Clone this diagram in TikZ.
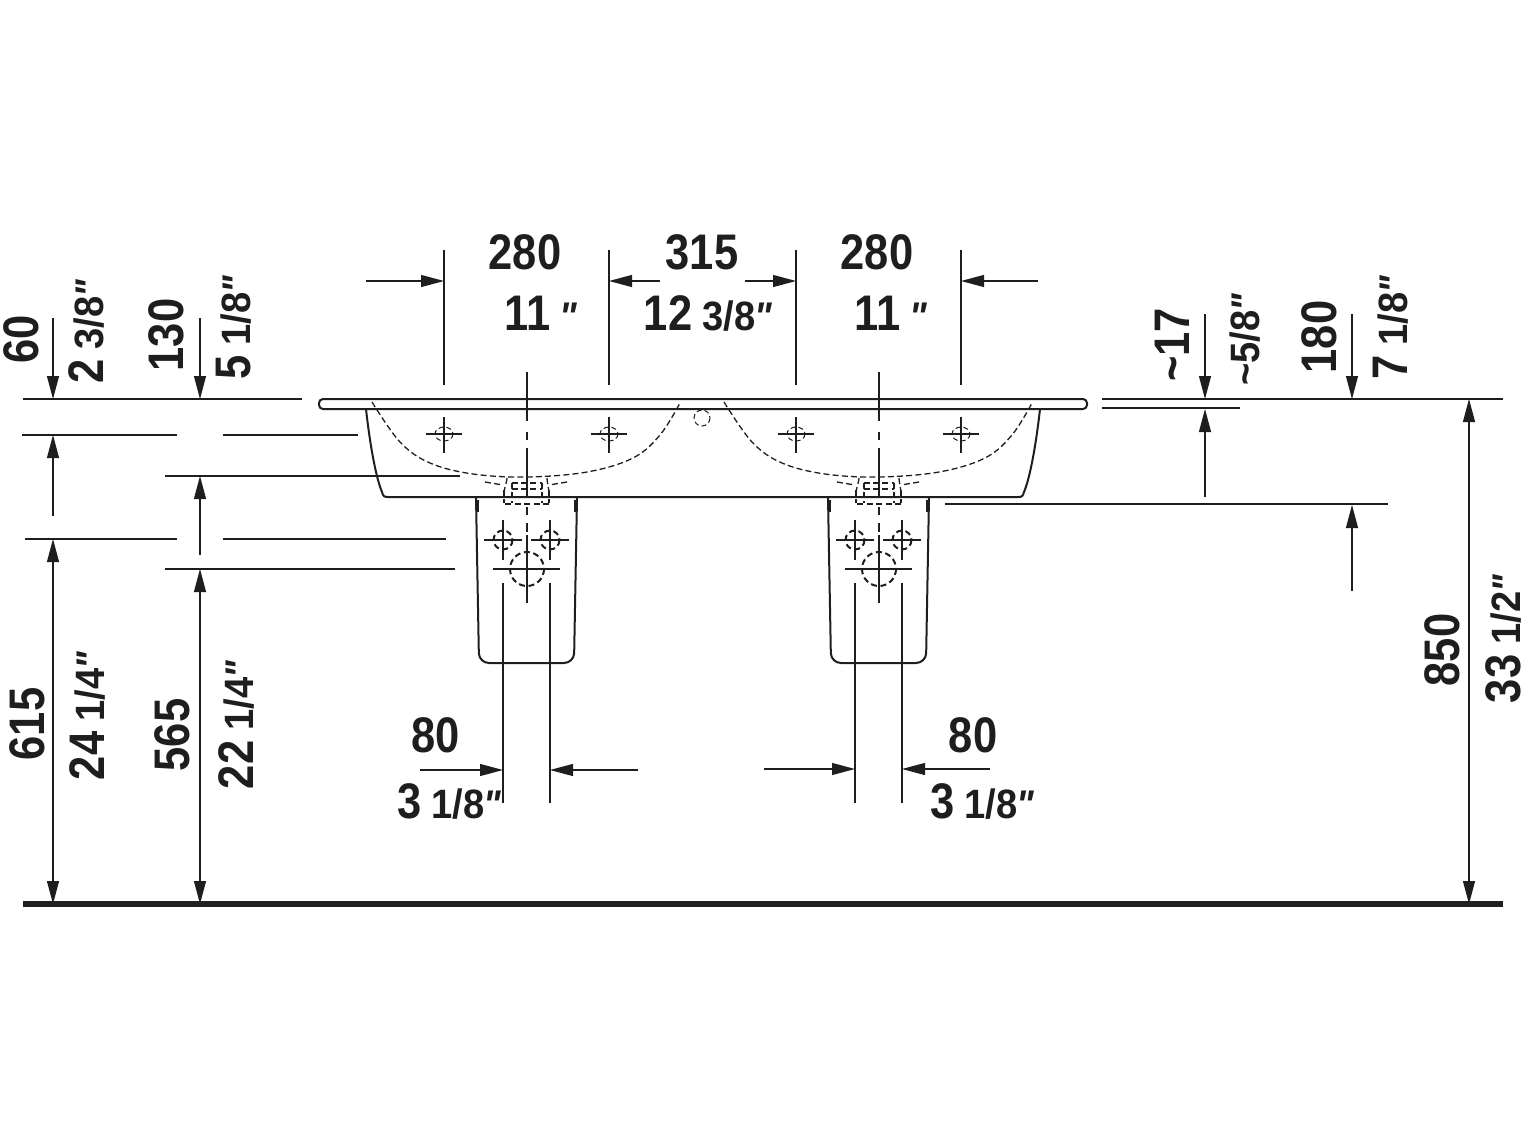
\documentclass[tikz,border=0pt]{standalone}
\usepackage{fontspec}
\usetikzlibrary{arrows.meta}
\newfontfamily\dimfont[FakeStretch=0.87]{Liberation Sans}
\newfontfamily\fracfont[FakeStretch=0.93]{Liberation Sans}
\definecolor{inkdark}{RGB}{30,30,30}
\newcommand{\qt}{{\fontsize{20}{20}\selectfont\fracfont\bfseries\itshape\hspace{-0.5pt}\char"0022}}
\newcommand{\fr}[1]{\hspace{-1pt}{\fracfont\bfseries\fontsize{20.5}{20.5}\selectfont #1}}

\begin{document}
\begin{tikzpicture}[
    x=0.5pt, y=-0.5pt,
    dimtext/.style={font=\dimfont\bfseries\fontsize{25}{25}\selectfont, text=inkdark, inner sep=0pt, text height=18pt, text depth=0pt},
    dimup/.style={dimtext, rotate=90},
    extline/.style={draw=inkdark, line width=0.55pt},
    centreline/.style={draw=inkdark, line width=0.7pt},
    arrowline/.style={draw=inkdark, line width=0.55pt, -{Stealth[length=11.5pt,width=6pt,inset=0pt]}},
    bothline/.style={draw=inkdark, line width=0.55pt, {Stealth[length=11.5pt,width=6pt,inset=0pt]}-{Stealth[length=11.5pt,width=6pt,inset=0pt]}},
    outline/.style={draw=inkdark, line width=1pt},
    hidden/.style={draw=inkdark, line width=0.65pt, dash pattern=on 3pt off 1.6pt},
    hiddenbold/.style={draw=inkdark, line width=1pt, dash pattern=on 3pt off 1.8pt}
]
\useasboundingbox (0,0) rectangle (1522,1142);

% Floor and level lines
\draw[inkdark, line width=3pt] (23,904) -- (1503,904);
\draw[extline] (23,399) -- (302,399);
\draw[extline] (1102,399) -- (1503,399);
\draw[extline] (1102,408) -- (1240,408);
\draw[extline] (22,435) -- (177,435);
\draw[extline] (223,435) -- (358,435);
\draw[extline] (25,539) -- (177,539);
\draw[extline] (223,539) -- (446,539);
\draw[extline] (165,476) -- (460,476);
\draw[extline] (165,569) -- (455,569);
\draw[extline] (945,504) -- (1388,504);

% Counter top and bowl body
\draw[outline, rounded corners=2pt] (319,399) rectangle (1087,409);
\draw[outline] (366,409) .. controls (370,445) and (376,478) .. (382,492) .. controls (383,496) and (384,497) .. (388,497)
    -- (1018,497) .. controls (1022,497) and (1023,496) .. (1024,492) .. controls (1030,478) and (1036,445) .. (1040,409);
\draw[hidden, dash pattern=on 2.5pt off 1.5pt, line width=0.5pt] (702,418) circle [radius=8];

% One basin with its pedestal, twice
\foreach \cx in {527,879} {
    \begin{scope}[shift={(\cx,0)}]
    % bowl hidden line
    \draw[hidden] plot[smooth, tension=0.6] coordinates {(-155,402) (-127,442) (-97,463) (-54,474) (0,477) (60,472) (106,458) (133,435) (153,403)};
    % tap and overflow holes
    \foreach \hx in {-83,82} {
        \draw[extline] (\hx-18,434) -- (\hx+18,434);
        \draw[extline] (\hx,417) -- (\hx,453);
        \draw[hidden, line width=0.5pt, dash pattern=on 2.5pt off 1.5pt] (\hx,434) ellipse [x radius=9, y radius=7];
    }
    % pedestal
    \draw[outline, rounded corners=5pt] (-51,497) -- (-48,663) -- (47,663) -- (50,497);
    \draw[line width=1pt, inkdark] (-49,500) -- (-49,512);
    \draw[line width=1pt, inkdark] (48,500) -- (48,512);
    % centre line
    \draw[centreline] (0,372) -- (0,421);
    \draw[centreline] (0,432) -- (0,440);
    \draw[centreline] (0,448) -- (0,497);
    \draw[centreline] (0,507) -- (0,515);
    \draw[centreline] (0,523) -- (0,532);
    \draw[centreline] (0,535) -- (0,603);
    % waste fitting
    \draw[hidden] (-42,482) -- (-24,485);
    \draw[hidden] (40,482) -- (22,485);
    \draw[hidden] (-20,478) .. controls (-20,483) and (-23,486) .. (-23,497);
    \draw[hidden] (20,478) .. controls (20,483) and (22,486) .. (22,497);
    \draw[hidden] (-23,490) -- (-23,503);
    \draw[hidden] (22,490) -- (22,503);
    \draw[hidden] (-15,483) -- (-15,503);
    \draw[hidden] (15,483) -- (15,503);
    \draw[hidden] (-15,483) -- (15,483);
    \draw[hidden] (-15,489) -- (15,489);
    \draw[hiddenbold] (-22,504) -- (22,504);
    % fixing and drain holes
    \foreach \hx in {-24,23} {
        \draw[extline] (\hx-19,540) -- (\hx+19,540);
        \draw[extline] (\hx,520) -- (\hx,560);
        \draw[hiddenbold] (\hx,540) circle [radius=9.5];
        \draw[extline] (\hx,583) -- (\hx,803);
    }
    \draw[centreline] (-34,569) -- (33,569);
    \draw[hiddenbold] (0,569) circle [radius=17];
    \end{scope}
}

% Width dimensions on top
\foreach \lx in {444,609,796,961} {
    \draw[extline] (\lx,250) -- (\lx,385);
}
\draw[arrowline] (366,281) -- (444,281);
\draw[arrowline] (660,281) -- (609,281);
\draw[arrowline] (745,281) -- (796,281);
\draw[arrowline] (1038,281) -- (961,281);
\node[dimtext] (width1mm) at (525,251) {280};
\node[dimtext] (width1in) at (541,312) {11\hspace{5pt}\qt};
\node[dimtext] (width2mm) at (702,251) {315};
\node[dimtext] (width2in) at (708,312) {12 \fr{3/8\qt}};
\node[dimtext] (width3mm) at (877,251) {280};
\node[dimtext] (width3in) at (891,312) {11\hspace{5pt}\qt};

% Heights on the left
\draw[arrowline] (53,318) -- (53,399);
\draw[arrowline] (53,516) -- (53,435);
\draw[bothline] (53,539) -- (53,904);
\draw[arrowline] (200,318) -- (200,399);
\draw[arrowline] (200,555) -- (200,476);
\draw[bothline] (200,569) -- (200,904);
\node[dimup] (depth60) at (21,339) {60};
\node[dimup] (depth60in) at (85,332) {2 \fr{3/8\qt}};
\node[dimup] (depth130) at (165,335) {130};
\node[dimup] (depth130in) at (232,328) {5 \fr{1/8\qt}};
\node[dimup] (height615) at (26,724) {615};
\node[dimup] (height615in) at (86,716) {24 \fr{1/4\qt}};
\node[dimup] (height565) at (171,735) {565};
\node[dimup] (height565in) at (235,725) {22 \fr{1/4\qt}};

% Heights on the right
\draw[arrowline] (1205,314) -- (1205,399);
\draw[arrowline] (1205,497) -- (1205,409);
\draw[arrowline] (1352,314) -- (1352,399);
\draw[arrowline] (1352,591) -- (1352,505);
\draw[bothline] (1469,399) -- (1469,904);
\node[dimup] (lip17) at (1171,345) {\char"007E 17};
\node[dimup] (lip17in) at (1241,339) {\fr{\char"007E 5/8\qt}};
\node[dimup] (depth180) at (1318,337) {180};
\node[dimup] (depth180in) at (1389,328) {7 \fr{1/8\qt}};
\node[dimup] (height850) at (1441,650) {850};
\node[dimup] (height850in) at (1502,639) {33 \fr{1/2\qt}};

% Pedestal widths
\draw[arrowline] (420,770) -- (503,770);
\draw[arrowline] (638,770) -- (550,770);
\draw[arrowline] (764,769) -- (855,769);
\draw[arrowline] (990,769) -- (902,769);
\node[dimtext] (ped1mm) at (436,734) {80};
\node[dimtext] (ped1in) at (449,800) {3 \fr{1/8\qt}};
\node[dimtext] (ped2mm) at (973,734) {80};
\node[dimtext] (ped2in) at (982,800) {3 \fr{1/8\qt}};

\end{tikzpicture}
\end{document}
